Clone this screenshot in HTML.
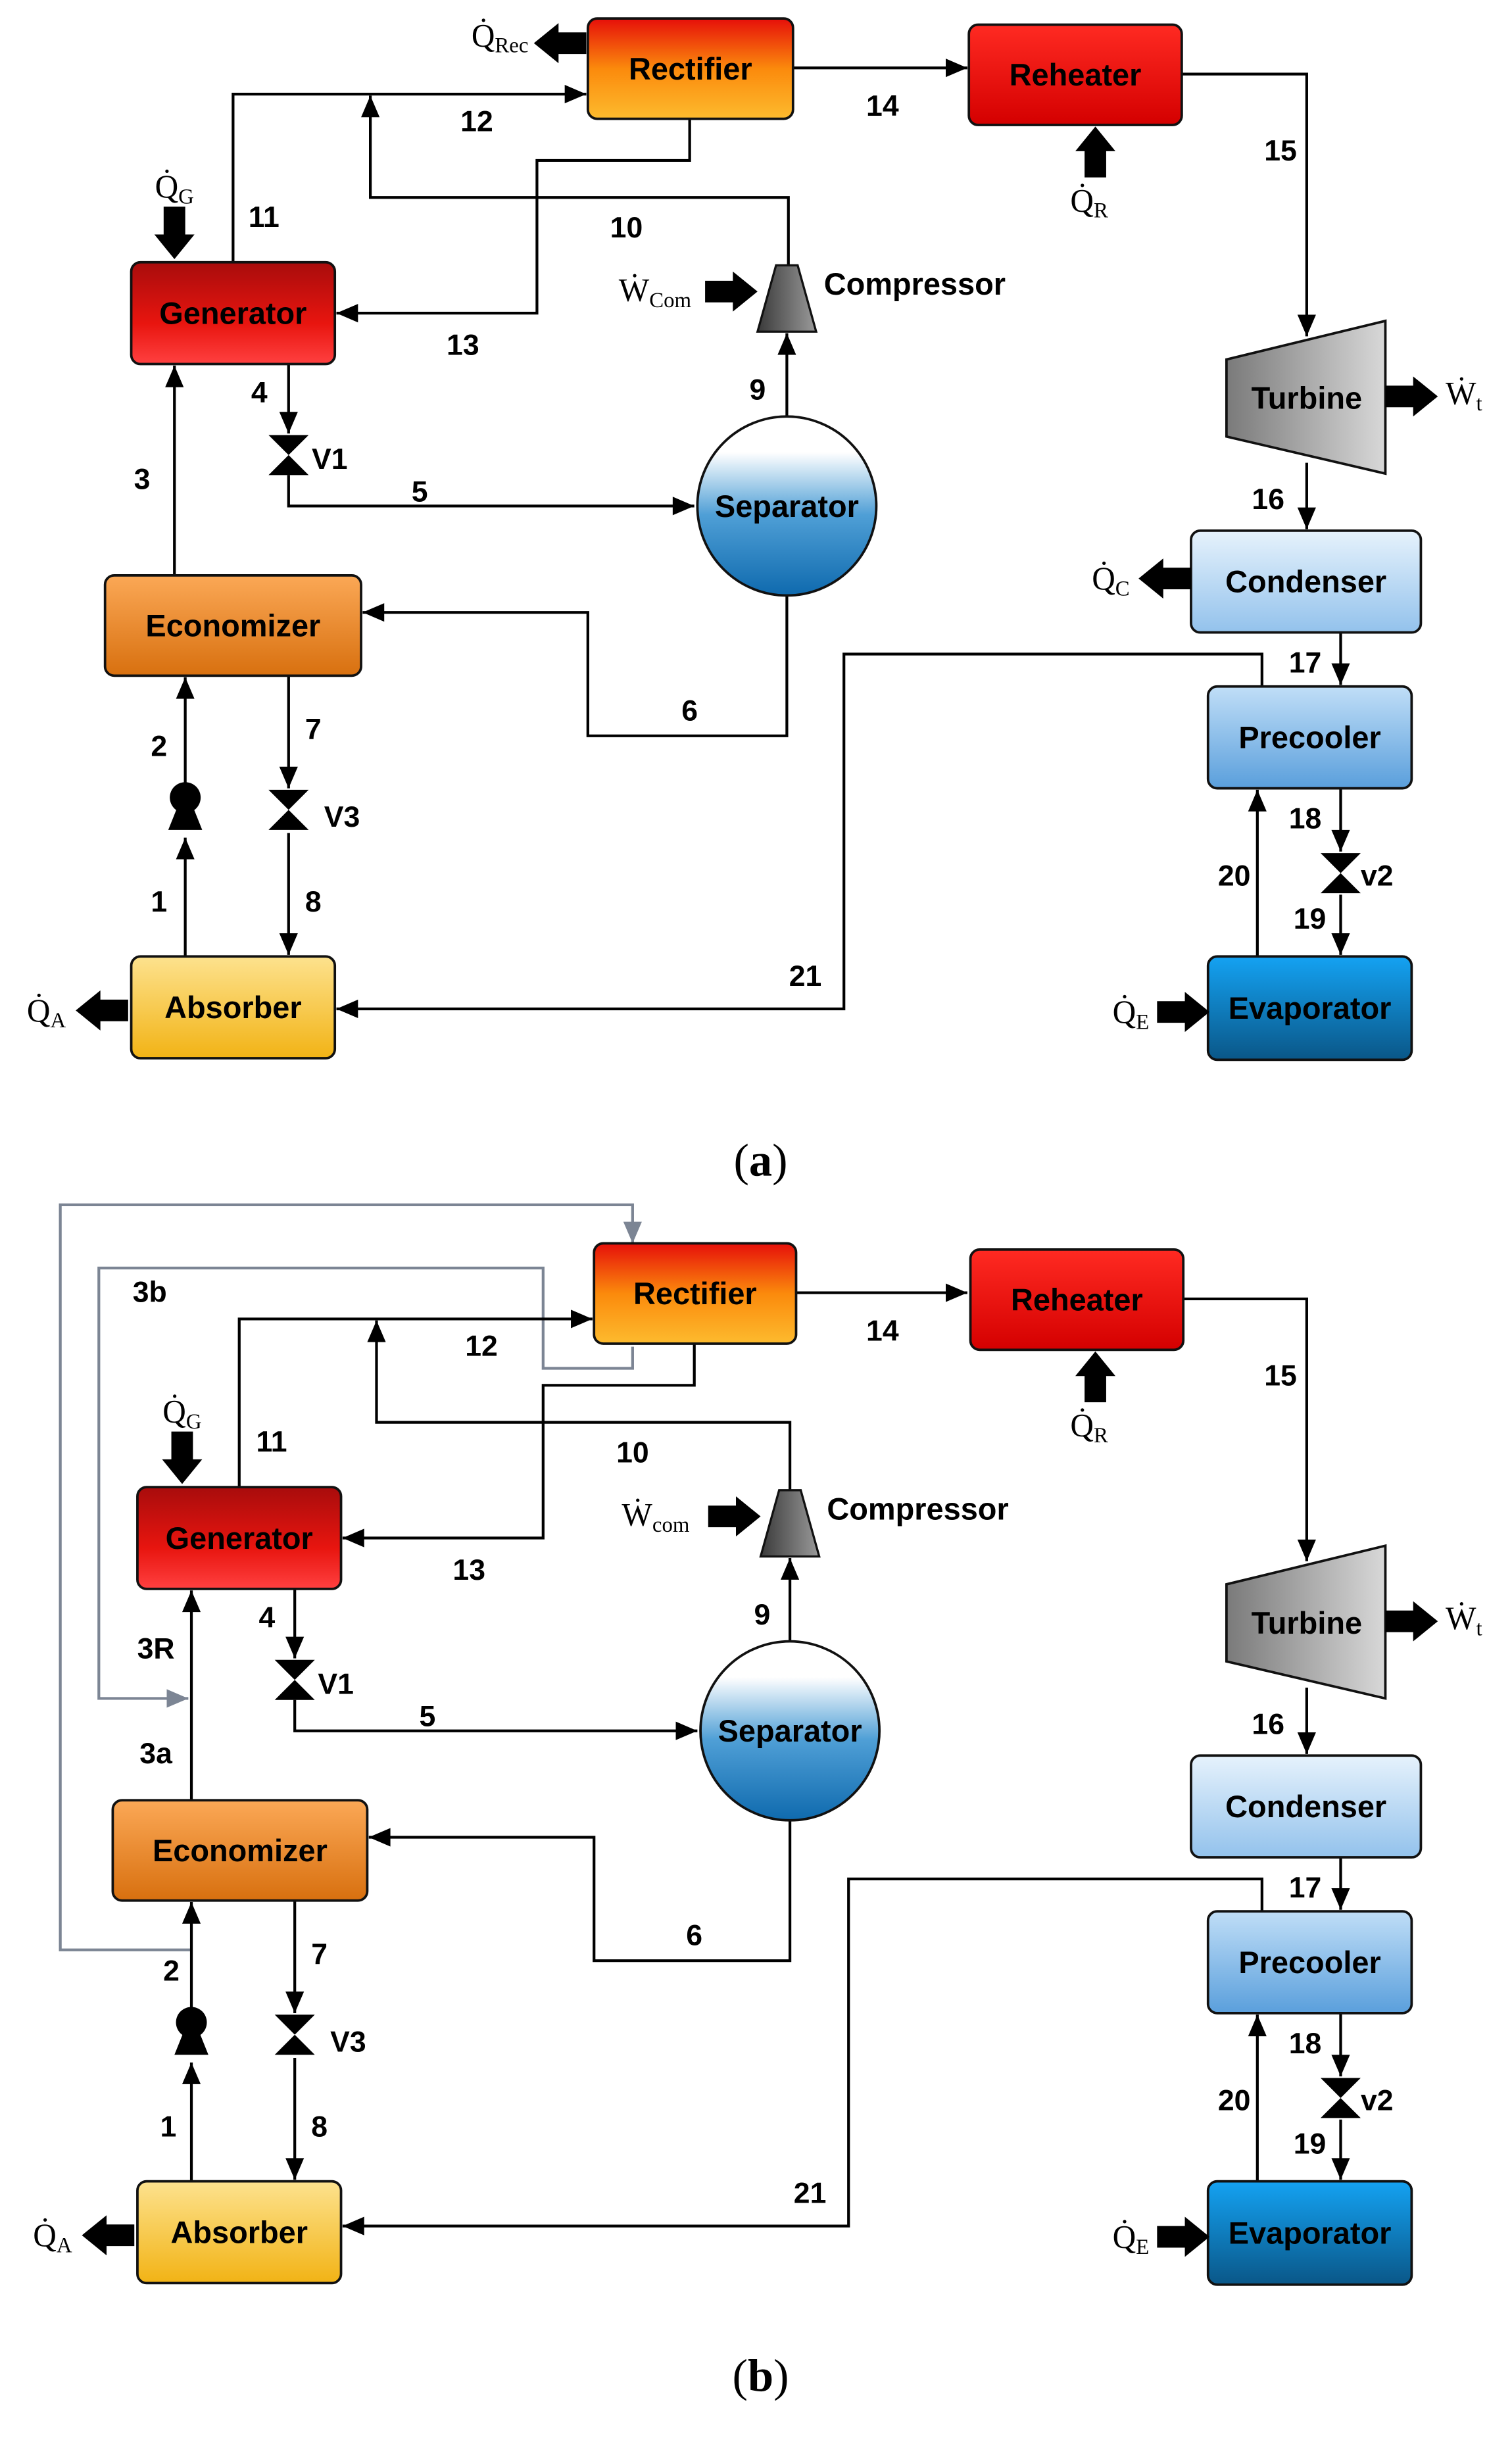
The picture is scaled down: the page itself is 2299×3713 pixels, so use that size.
<!DOCTYPE html>
<html><head><meta charset="utf-8">
<style>
html,body{margin:0;padding:0;background:#fff;}
svg{display:block;}
.b{font-family:"Liberation Sans",sans-serif;font-weight:bold;fill:#000;}
.s{font-family:"Liberation Serif",serif;fill:#000;}
</style></head>
<body>
<svg id="d" xmlns="http://www.w3.org/2000/svg" width="2299" height="3713" viewBox="0 0 980 1583">
<defs>
<linearGradient id="gRect" x1="0" y1="0" x2="0" y2="1"><stop offset="0" stop-color="#e60f0a"/><stop offset="0.5" stop-color="#fb8a0c"/><stop offset="1" stop-color="#fdbb2e"/></linearGradient>
<linearGradient id="gReh" x1="0" y1="0" x2="0" y2="1"><stop offset="0" stop-color="#ff2a22"/><stop offset="1" stop-color="#d40000"/></linearGradient>
<linearGradient id="gGen" x1="0" y1="0" x2="0" y2="1"><stop offset="0" stop-color="#a80c0c"/><stop offset="0.6" stop-color="#e8150f"/><stop offset="1" stop-color="#ff4040"/></linearGradient>
<linearGradient id="gEco" x1="0" y1="0" x2="0" y2="1"><stop offset="0" stop-color="#fba856"/><stop offset="1" stop-color="#d8700f"/></linearGradient>
<linearGradient id="gAbs" x1="0" y1="0" x2="0" y2="1"><stop offset="0" stop-color="#fde28e"/><stop offset="1" stop-color="#f2b315"/></linearGradient>
<linearGradient id="gCon" x1="0" y1="0" x2="0" y2="1"><stop offset="0" stop-color="#e6f2fc"/><stop offset="1" stop-color="#93c2ec"/></linearGradient>
<linearGradient id="gPre" x1="0" y1="0" x2="0" y2="1"><stop offset="0" stop-color="#c0def7"/><stop offset="1" stop-color="#5a9fdc"/></linearGradient>
<linearGradient id="gEva" x1="0" y1="0" x2="0" y2="1"><stop offset="0" stop-color="#14a2f2"/><stop offset="1" stop-color="#0a5788"/></linearGradient>
<linearGradient id="gTur" x1="0" y1="0" x2="1" y2="0"><stop offset="0" stop-color="#7a7a7a"/><stop offset="1" stop-color="#d8d8d8"/></linearGradient>
<linearGradient id="gCom" x1="0" y1="0" x2="1" y2="0"><stop offset="0" stop-color="#3a3a3a"/><stop offset="1" stop-color="#9a9a9a"/></linearGradient>
<linearGradient id="gSep" x1="0" y1="0" x2="0" y2="1"><stop offset="0" stop-color="#ffffff"/><stop offset="0.2" stop-color="#ffffff"/><stop offset="0.55" stop-color="#4f9fd6"/><stop offset="1" stop-color="#0f6aae"/></linearGradient>
</defs>
</svg>
<script>
var S=document.getElementById('d'),NS='http://www.w3.org/2000/svg',out='';
function add(s){out+=s;}
function box(x1,y1,x2,y2,g,t,fs){add('<rect x="'+x1+'" y="'+y1+'" width="'+(x2-x1)+'" height="'+(y2-y1)+'" rx="6" fill="url(#'+g+')" stroke="#111" stroke-width="1.6"/>');
add('<text class="b" x="'+((x1+x2)/2)+'" y="'+((y1+y2)/2+7)+'" text-anchor="middle" font-size="'+(fs||20)+'">'+t+'</text>');}
function ah(x,y,dir,c){c=c||'#000';var p;
 if(dir=='r')p=[[x,y],[x-14,y-6],[x-14,y+6]];
 if(dir=='l')p=[[x,y],[x+14,y-6],[x+14,y+6]];
 if(dir=='u')p=[[x,y],[x-6,y+14],[x+6,y+14]];
 if(dir=='d')p=[[x,y],[x-6,y-14],[x+6,y-14]];
 add('<polygon points="'+p.map(function(a){return a.join(',')}).join(' ')+'" fill="'+c+'"/>');}
function ln(pts,dir,c){c=c||'#000';add('<polyline points="'+pts.map(function(a){return a.join(',')}).join(' ')+'" fill="none" stroke="'+c+'" stroke-width="1.8"/>');
 if(dir){var e=pts[pts.length-1];ah(e[0],e[1],dir,c);}}
function big(x0,y0,dir,L){L=L||34;var p;var w=7,h=13,hl=16;
 if(dir=='r')p=[[x0,y0-w],[x0+L-hl,y0-w],[x0+L-hl,y0-h],[x0+L,y0],[x0+L-hl,y0+h],[x0+L-hl,y0+w],[x0,y0+w]];
 if(dir=='l')p=[[x0,y0-w],[x0-L+hl,y0-w],[x0-L+hl,y0-h],[x0-L,y0],[x0-L+hl,y0+h],[x0-L+hl,y0+w],[x0,y0+w]];
 if(dir=='d')p=[[x0-w,y0],[x0-w,y0+L-hl],[x0-h,y0+L-hl],[x0,y0+L],[x0+h,y0+L-hl],[x0+w,y0+L-hl],[x0+w,y0]];
 if(dir=='u')p=[[x0-w,y0],[x0-w,y0-L+hl],[x0-h,y0-L+hl],[x0,y0-L],[x0+h,y0-L+hl],[x0+w,y0-L+hl],[x0+w,y0]];
 add('<polygon points="'+p.map(function(a){return a.join(',')}).join(' ')+'" fill="#000"/>');}
function t(x,y,s,fs,anchor){add('<text class="b" x="'+x+'" y="'+y+'" font-size="'+(fs||19)+'" text-anchor="'+(anchor||'middle')+'">'+s+'</text>');}
function q(x,y,L,sub){add('<text class="s" x="'+x+'" y="'+y+'" font-size="21" text-anchor="middle">'+L+'\u0307<tspan font-size="14" dy="4">'+sub+'</tspan></text>');}
function valve(x,y){add('<polygon points="'+(x-13)+','+(y-13)+' '+(x+13)+','+(y-13)+' '+x+','+y+' '+(x+13)+','+(y+13)+' '+(x-13)+','+(y+13)+' '+x+','+y+'" fill="#000"/>');}
function pump(x,y){add('<circle cx="'+x+'" cy="'+(y-4)+'" r="10" fill="#000"/><polygon points="'+(x-5)+','+(y+2)+' '+(x+5)+','+(y+2)+' '+(x+11)+','+(y+17)+' '+(x-11)+','+(y+17)+'" fill="#000"/>');}

function diagram(o,b){ // o = y offset, b = true for (b)
 var dx=b?4:0, dy=o;
 var Y=function(v){return v+dy;};
 // connectors
 if(b){
  ln([[124,1264],[39,1264],[39,781],[410,781],[410,806]],'d','#7c8594');
  ln([[410,873],[410,887],[352,887],[352,822],[64,822],[64,1101],[122,1101]],'r','#7c8594');
 }
 var gx=b?155:151, gl=b?89:85, gr=b?221:217;
 ln([[gx,Y(170)],[gx,Y(61)],[(b?385:381)-1,Y(61)]],'r');
 ln([[b?512:511,Y(172)],[b?512:511,Y(128)],[b?244:240,Y(128)],[b?244:240,Y(62)]],'u');
 ln([[b?450:447,Y(77)],[b?450:447,Y(104)],[b?352:348,Y(104)],[b?352:348,Y(203)],[gr+1,Y(203)]],'l');
 ln([[b?516:514,Y(44)],[627,Y(44)]],'r');
 ln([[766,Y(48)],[847,Y(48)],[847,Y(218)]],'d');
 ln([[847,Y(300)],[847,Y(343)]],'d');
 ln([[869,Y(410)],[869,Y(444)]],'d');
 ln([[869,Y(511)],[869,Y(552)]],'d');
 ln([[869,Y(580)],[869,Y(619)]],'d');
 ln([[815,Y(620)],[815,Y(512)]],'u');
 ln([[818,Y(445)],[818,Y(424)],[b?550:547,Y(424)],[b?550:547,Y(b?649:654)],[gr+1,Y(b?649:654)]],'l');
 var vx=b?191:187;
 ln([[vx,Y(236)],[vx,Y(281)]],'d');
 ln([[vx,Y(308)],[vx,Y(328)],[b?452:450,Y(328)]],'r');
 var sx=b?512:510;
 ln([[sx,Y(270)],[sx,Y(216)]],'u');
 ln([[sx,Y(386)],[sx,Y(477)],[b?385:381,Y(477)],[b?385:381,Y(397)],[(b?238:234)+1,Y(397)]],'l');
 var ex=b?124:113;
 if(!b) ln([[113,Y(373)],[113,Y(237)]],'u');
 else ln([[124,Y(373)],[124,Y(237)]],'u');
 ln([[vx,Y(438)],[vx,Y(511)]],'d');
 ln([[vx,Y(540)],[vx,Y(619)]],'d');
 var px=b?124:120;
 ln([[px,Y(620)],[px,Y(543)]],'u');
 ln([[px,Y(509)],[px,Y(439)]],'u');
 // components
 box(b?385:381,Y(12),b?516:514,Y(77),'gRect','Rectifier');
 box(b?629:628,Y(16),b?767:766,Y(81),'gReh','Reheater');
 box(gl,Y(170),gr,Y(236),'gGen','Generator');
 box(b?73:68,Y(373),b?238:234,Y(438),'gEco','Economizer');
 box(gl,Y(620),gr,Y(686),'gAbs','Absorber');
 box(772,Y(344),921,Y(410),'gCon','Condenser');
 box(783,Y(445),915,Y(511),'gPre','Precooler');
 box(783,Y(620),915,Y(687),'gEva','Evaporator');
 add('<polygon points="795,'+Y(233)+' 898,'+Y(208)+' 898,'+Y(307)+' 795,'+Y(283)+'" fill="url(#gTur)" stroke="#111" stroke-width="1.6"/>');
 t(847,Y(265),'Turbine',20);
 var cx=sx;
 add('<polygon points="'+(cx-7)+','+Y(172)+' '+(cx+7)+','+Y(172)+' '+(cx+19)+','+Y(215)+' '+(cx-19)+','+Y(215)+'" fill="url(#gCom)" stroke="#111" stroke-width="1.4"/>');
 add('<text class="b" x="'+(cx+24)+'" y="'+Y(191)+'" font-size="20">Compressor</text>');
 add('<circle cx="'+sx+'" cy="'+Y(328)+'" r="58" fill="url(#gSep)" stroke="#111" stroke-width="1.6"/>');
 t(sx,Y(335),'Separator',20);
 valve(vx,Y(295)); valve(vx,Y(525)); valve(869,Y(566));
 pump(px,Y(521));
 // big arrows
 if(!b){big(380,Y(28),'l');q(324,Y(30),'Q','Rec');}
 big(710,Y(115),'u',33); q(706,Y(137),'Q','R');
 big(898,Y(257),'r'); add('<text class="s" x="937" y="'+Y(262)+'" font-size="21">W\u0307<tspan font-size="14" dy="4">t</tspan></text>');
 if(!b){big(772,Y(375),'l');q(720,Y(382),'Q','C');}
 big(750,Y(656),'r'); q(733,Y(663),'Q','E');
 big(gl-2,Y(655),'l'); q(gl-55,Y(662),'Q','A');
 big(b?118:113,Y(134),'d',34); q(b?118:113,Y(128),'Q','G');
 big(cx-53,Y(189),'r'); add('<text class="s" x="'+(cx-109)+'" y="'+Y(195)+'" font-size="21">W\u0307<tspan font-size="14" dy="4">'+(b?'com':'Com')+'</tspan></text>');
 // labels
 t(b?312:309,Y(85),'12'); t(b?176:171,Y(147),'11'); t(b?410:406,Y(154),'10'); t(b?304:300,Y(230),'13');
 t(572,Y(75),'14'); t(830,Y(104),'15'); t(b?494:491,Y(259),'9'); t(b?173:168,Y(261),'4');
 add('<text class="b" x="'+(vx+15)+'" y="'+Y(304)+'" font-size="19">V1</text>');
 t(b?277:272,Y(325),'5'); t(b?450:447,Y(467),'6'); t(b?207:203,Y(479),'7');
 add('<text class="b" x="'+(vx+23)+'" y="'+Y(536)+'" font-size="19">V3</text>');
 t(b?207:203,Y(591),'8'); t(b?109:103,Y(591),'1'); t(b?111:103,Y(490),'2');
 if(!b) t(92,Y(317),'3');
 t(822,Y(330),'16'); t(846,Y(436),'17'); t(846,Y(537),'18'); t(800,Y(574),'20'); t(849,Y(602),'19');
 add('<text class="b" x="882" y="'+Y(574)+'" font-size="19">v2</text>');
 t(b?525:522,Y(b?634:639),'21');
}
diagram(0,false);
diagram(794,true);
// extra for (b): 3b, 3R, 3a labels
t(97,844,'3b'); t(101,1075,'3R'); t(101,1143,'3a');
add('<text class="s" x="493" y="762" font-size="30" text-anchor="middle">(<tspan font-weight="bold">a</tspan>)</text>');
add('<text class="s" x="493" y="1550" font-size="30" text-anchor="middle">(<tspan font-weight="bold">b</tspan>)</text>');
S.insertAdjacentHTML('beforeend',out);
</script>
</body></html>
